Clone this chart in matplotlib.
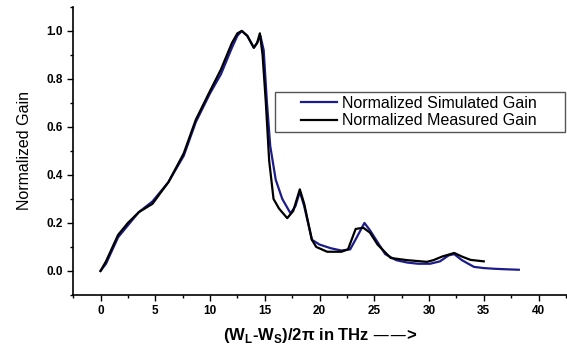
import matplotlib
matplotlib.use("Agg")
import matplotlib.pyplot as plt
from matplotlib.patches import Rectangle
from matplotlib.ticker import MultipleLocator

plt.rcParams['font.family'] = ['Liberation Sans', 'DejaVu Sans']

# simulated gain (blue)
sim_x = [0, 0.5, 1, 1.6, 2.5, 3.5, 4.75, 6.2, 7.6, 8.7, 10, 11, 12, 12.5, 12.9, 13.4,
         14.0, 14.3, 14.6, 14.9, 15.2, 15.5, 16.0, 16.6, 17.35, 17.8, 18.2, 18.6, 19.3,
         20, 21, 22, 22.8, 23.4, 24.1, 24.6, 25.3, 26, 27, 28, 29, 30.1, 31, 31.8, 32.3,
         33, 34.1, 35, 36, 37, 38.2]
sim_y = [0.0, 0.03, 0.08, 0.14, 0.19, 0.245, 0.29, 0.37, 0.48, 0.62, 0.74, 0.82, 0.93, 0.98, 1.0, 0.98,
         0.93, 0.95, 0.98, 0.92, 0.7, 0.52, 0.38, 0.30, 0.24, 0.27, 0.33, 0.27, 0.13,
         0.11, 0.095, 0.085, 0.09, 0.14, 0.20, 0.17, 0.12, 0.07, 0.045, 0.035, 0.03, 0.03, 0.04, 0.065, 0.07,
         0.045, 0.017, 0.012, 0.009, 0.007, 0.005]

# measured gain (black)
meas_x = [0, 0.5, 1, 1.6, 2.5, 3.5, 4.75, 6.2, 7.6, 8.7, 10, 11, 12, 12.5, 12.9, 13.4,
          14.0, 14.3, 14.55, 14.8, 15.1, 15.4, 15.8, 16.3, 17.05, 17.6, 18.2, 18.6, 19.3,
          19.7, 20.7, 22.0, 22.6, 23.3, 24.0, 24.6, 25.3, 26.5, 28, 29.8, 30.4, 31.2, 32.3,
          33, 33.8, 35.0]
meas_y = [0.0, 0.04, 0.09, 0.15, 0.2, 0.245, 0.28, 0.37, 0.49, 0.63, 0.75, 0.84, 0.95, 0.99, 1.0, 0.98,
          0.93, 0.95, 0.99, 0.9, 0.7, 0.46, 0.30, 0.26, 0.22, 0.25, 0.34, 0.28, 0.13,
          0.10, 0.08, 0.08, 0.09, 0.175, 0.18, 0.16, 0.11, 0.054, 0.045, 0.038, 0.045, 0.06, 0.075,
          0.06, 0.046, 0.04]

x_ticks = [0, 5, 10, 15, 20, 25, 30, 35, 40]
y_ticks = [0.0, 0.2, 0.4, 0.6, 0.8, 1.0]


def main():
    fig = plt.figure(figsize=(5.67, 3.47), dpi=100)
    ax = fig.add_axes([0.129, 0.150, 0.871, 0.830])

    ax.plot(sim_x, sim_y, color='#1c1c8a', lw=1.6, label='Normalized Simulated Gain')
    ax.plot(meas_x, meas_y, color='black', lw=1.6, label='Normalized Measured Gain')

    ax.set_xlim(-2.5, 42.6)
    ax.set_ylim(-0.1, 1.1)
    ax.set_xticks(x_ticks)
    ax.set_yticks(y_ticks)
    ax.set_yticklabels(['%.1f' % v for v in y_ticks])
    ax.xaxis.set_minor_locator(MultipleLocator(2.5))
    ax.yaxis.set_minor_locator(MultipleLocator(0.1))
    ax.tick_params(which='major', direction='out', length=4, width=1, labelsize=8.5)
    ax.tick_params(which='minor', direction='out', length=2.5, width=1)
    for lab in ax.get_xticklabels() + ax.get_yticklabels():
        lab.set_fontweight('bold')

    ax.spines['top'].set_visible(False)
    ax.spines['right'].set_visible(False)
    ax.spines['left'].set_linewidth(1.2)
    ax.spines['bottom'].set_linewidth(1.2)

    ax.set_ylabel('Normalized Gain', fontsize=11.5, labelpad=10)
    ax.set_xlabel(r'(W$_{\mathregular{L}}$-W$_{\mathregular{S}}$)/2$\mathregular{\pi}$ in THz ——>',
                  fontsize=12, fontweight='bold', labelpad=6)

    # legend box is wider than the entries, so draw it separately
    ax.add_patch(Rectangle((0.409, 0.566), 0.587, 0.139, transform=ax.transAxes,
                           fill=True, facecolor='white', edgecolor='#555555', lw=1.0,
                           clip_on=False, zorder=4))
    leg = ax.legend(loc='center left', bbox_to_anchor=(0.4615, 0.6355), fontsize=11.5,
                    frameon=False, handlelength=2.25, handletextpad=0.3,
                    borderpad=0, labelspacing=0.15, borderaxespad=0)
    leg.set_zorder(5)

    fig.savefig('out.png', dpi=100)


if __name__ == '__main__':
    main()
